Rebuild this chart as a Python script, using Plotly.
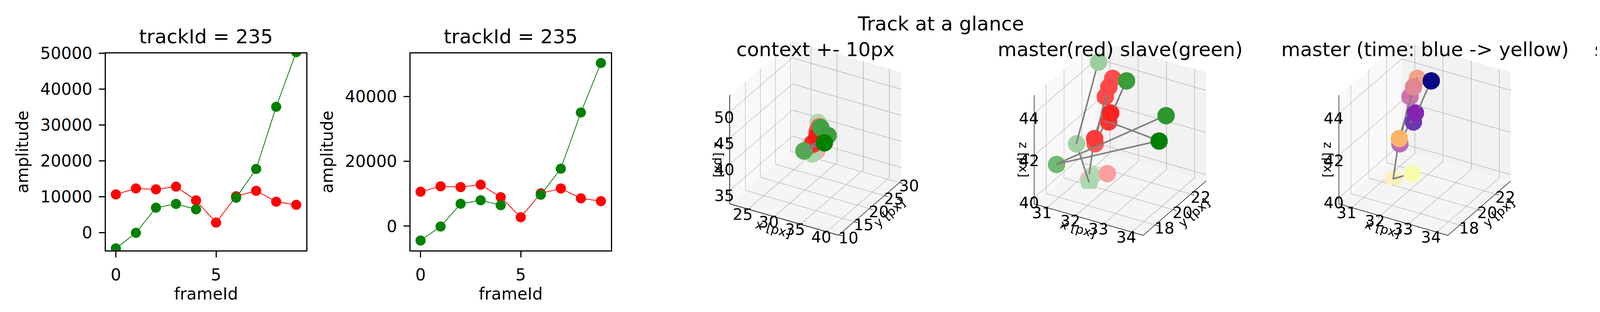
import numpy as np
import plotly.graph_objects as go
import plotly.express as px

# amplitude per frame (master = red, slave = green, slave has no frame 5)
frame_ids = list(range(10))
master_amp = [10630, 12300, 12050, 12800, 8960, 2760, 10120, 11640, 8600, 7730]
slave_amp = [-4430, -100, 6920, 7990, 6470, None, 9700, 17730, 35080, 50340]

# 3d positions [px]
master_x = [32.47, 32.06, 32.13, 31.69, 31.66, 31.70, 31.70, 31.78, 31.35, 31.90]
master_y = [20.88, 20.18, 20.18, 19.83, 21.06, 21.33, 21.76, 19.48, 20.18, 20.53]
master_z = [44.75, 42.90, 43.35, 41.85, 43.62, 44.00, 44.25, 42.26, 39.91, 40.26]

slave_x = [32.47, 32.05, 34.18, 30.88, 33.87, None, 30.92, 30.92, 31.48, 31.49]
slave_y = [20.88, 20.18, 19.12, 18.07, 20.88, None, 22.64, 20.18, 19.83, 20.18]
slave_z = [44.75, 42.90, 43.20, 41.20, 43.64, None, 44.40, 41.42, 39.93, 40.15]

FONT = "DejaVu Sans"
W, H = 4800, 800

# axis boxes of the 3d panels
ZOOM_RANGES = ([30.54, 34.40], [16.66, 23.70], [39.70, 44.86])
CTX_RANGES = ([21.46, 42.30], [9.78, 30.62], [32.43, 53.27])

elev, azim = np.radians(30), np.radians(-60)
VIEW = np.array([np.cos(elev) * np.cos(azim), np.cos(elev) * np.sin(azim), np.sin(elev)])
EYE_R = 2.74


def num(vals):
    return np.array([np.nan if v is None else v for v in vals], dtype=float)


def depth_alpha(xs, ys, zs, ranges):
    # mimic mpl depthshade: far points fade to 0.3
    pts = np.vstack([num(xs), num(ys), num(zs)]).T
    lo = np.array([r[0] for r in ranges])
    hi = np.array([r[1] for r in ranges])
    d = ((pts - lo) / (hi - lo)) @ VIEW
    far = (np.nanmax(d) - d) / (np.nanmax(d) - np.nanmin(d))
    a = 1 - 0.7 * far
    return np.nan_to_num(a, nan=1.0)


def hex_rgb(h):
    h = h.lstrip("#")
    return tuple(int(h[i:i + 2], 16) for i in (0, 2, 4))


def faded(colors, alphas):
    # alpha composited over the white figure background
    out = []
    for c, a in zip(colors, alphas):
        r, g, b = (round(a * v + (1 - a) * 255) for v in hex_rgb(c))
        out.append(f"rgb({r},{g},{b})")
    return out


fig = go.Figure()

# 2d amplitude panels
for i, ax in enumerate(["", "2"]):
    fig.add_trace(go.Scatter(x=frame_ids, y=master_amp, mode="lines+markers",
                             line=dict(color="#ff0000", width=2),
                             marker=dict(color="#ff0000", size=26),
                             xaxis="x" + ax, yaxis="y" + ax, showlegend=False, cliponaxis=True))
    fig.add_trace(go.Scatter(x=frame_ids, y=slave_amp, mode="lines+markers",
                             line=dict(color="#008000", width=2),
                             marker=dict(color="#008000", size=26),
                             xaxis="x" + ax, yaxis="y" + ax, showlegend=False, cliponaxis=True))

plasma = px.colors.sequential.Plasma


def add_track(scene, xs, ys, zs, colors, ranges):
    alpha = depth_alpha(xs, ys, zs, ranges)
    fig.add_trace(go.Scatter3d(x=xs, y=ys, z=zs, mode="markers",
                               marker=dict(size=26, color=faded(colors, alpha), line=dict(width=0)),
                               scene=scene, showlegend=False))


def add_path(scene, xs, ys, zs):
    fig.add_trace(go.Scatter3d(x=xs, y=ys, z=zs, mode="lines",
                               line=dict(color="#808080", width=8),
                               scene=scene, showlegend=False))


n = len(frame_ids)
for scene, ranges in [("scene", CTX_RANGES), ("scene2", ZOOM_RANGES)]:
    add_track(scene, master_x, master_y, master_z, ["#ff0000"] * n, ranges)
    add_track(scene, slave_x, slave_y, slave_z, ["#008000"] * n, ranges)
    add_path(scene, master_x, master_y, master_z)
    add_path(scene, slave_x, slave_y, slave_z)

add_track("scene3", master_x, master_y, master_z, plasma, ZOOM_RANGES)
add_path("scene3", master_x, master_y, master_z)
add_track("scene4", slave_x, slave_y, slave_z, plasma, ZOOM_RANGES)
add_path("scene4", slave_x, slave_y, slave_z)


def ax2d(left, title, standoff, **kw):
    d = dict(domain=[left / W, (left + 513) / W], showline=True, mirror=True, linecolor="black",
             linewidth=3, ticks="outside", ticklen=15, tickwidth=3, tickcolor="black",
             showgrid=False, zeroline=False, tickformat="d", ticklabelstandoff=8,
             tickfont=dict(size=42),
             title=dict(text=title, font=dict(size=42), standoff=standoff))
    d.update(kw)
    return d


def ax3d(title, rng, dtick, bg):
    return dict(title=dict(text=title, font=dict(size=32)), range=rng, autorange=False,
                tick0=0, dtick=dtick, showbackground=True, backgroundcolor=bg,
                gridcolor="#b0b0b0", gridwidth=3, showline=True, linecolor="black", linewidth=3,
                ticks="outside", ticklen=10, tickwidth=3, tickcolor="black", tickangle=0,
                tickfont=dict(size=22, color="black"), zeroline=False, showspikes=False)


def scene_layout(k, ranges, dticks):
    left = 263 + 780 * k
    return dict(domain=dict(x=[(left - 20) / W, (left + 533) / W], y=[0.17, 1.0]),
                xaxis=ax3d("x [px]", ranges[0], dticks[0], "#f9f9f9"),
                yaxis=ax3d("y [px]", ranges[1], dticks[1], "#f2f2f2"),
                zaxis=ax3d("z [px]", ranges[2], dticks[2], "#f5f5f5"),
                aspectmode="cube",
                camera=dict(eye=dict(x=EYE_R * VIEW[0], y=EYE_R * VIEW[1], z=EYE_R * VIEW[2]),
                            up=dict(x=0, y=0, z=1), center=dict(x=0, y=0, z=0),
                            projection=dict(type="orthographic")))


y_dom = [1 - 629 / H, 1 - 108 / H]
fig.update_layout(
    width=W, height=H, margin=dict(l=0, r=0, t=0, b=0),
    paper_bgcolor="white", plot_bgcolor="white",
    font=dict(family=FONT, color="black", size=42),
    xaxis=ax2d(263, "frameId", 4, anchor="y", range=[-0.5, 9.5], tick0=0, dtick=5),
    yaxis=ax2d(0, "amplitude", 18, anchor="x", domain=y_dom, range=[-5000, 50000], dtick=10000),
    xaxis2=ax2d(1043, "frameId", 4, anchor="y2", range=[-0.5, 9.5], tick0=0, dtick=5),
    yaxis2=ax2d(0, "amplitude", 18, anchor="x2", domain=y_dom, range=[-7485, 53330], dtick=20000),
    scene=scene_layout(2, CTX_RANGES, [5, 5, 5]),
    scene2=scene_layout(3, ZOOM_RANGES, [1, 2, 2]),
    scene3=scene_layout(4, ZOOM_RANGES, [1, 2, 2]),
    scene4=scene_layout(5, ZOOM_RANGES, [1, 2, 2]),
)

titles = ["trackId = 235", "trackId = 235", "context +- 10px", "master(red) slave(green)",
          "master (time: blue -> yellow)", "slave (time: blue -> yellow)"]
for k, t in enumerate(titles):
    cx = (263 + 780 * k + 256.5) / W
    ybot = 1 - (96 if k < 2 else 130) / H
    fig.add_annotation(text=t, x=cx, y=ybot, xref="paper", yref="paper", xanchor="center",
                       yanchor="bottom", showarrow=False, font=dict(size=50))
fig.add_annotation(text="Track at a glance", x=0.5, y=1 - 62 / H, xref="paper", yref="paper",
                   xanchor="center", yanchor="bottom", showarrow=False, font=dict(size=50))

fig.write_html("out.html")
